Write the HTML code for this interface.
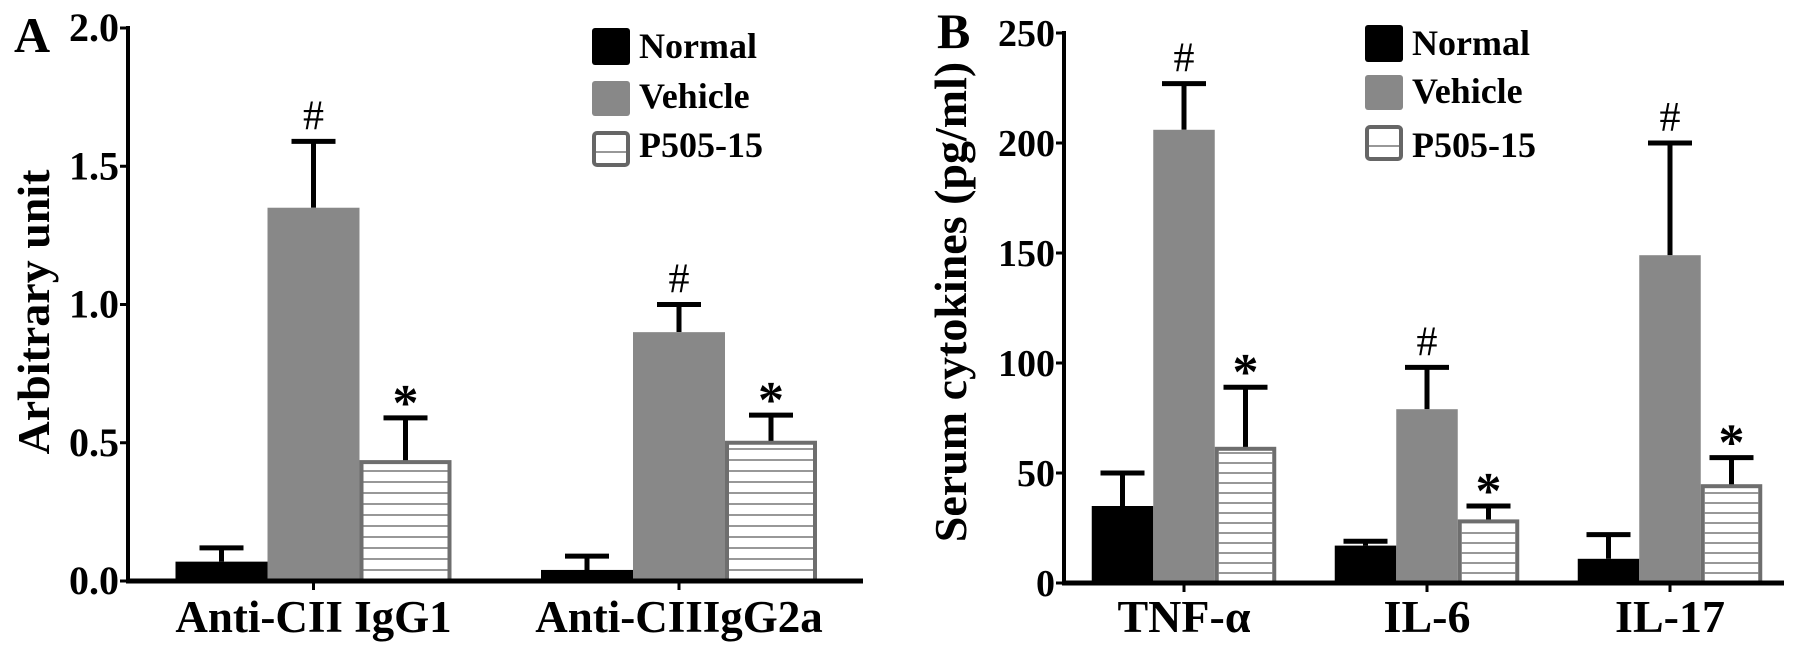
<!DOCTYPE html>
<html><head><meta charset="utf-8"><style>
html,body{margin:0;padding:0;background:#fff;}
svg{display:block;font-family:"Liberation Serif",serif;}
</style></head><body>
<svg id="fig" width="1795" height="651" viewBox="0 0 1795 651"></svg>
<script>
// Panel A data
const aCategories = ["Anti-CII IgG1", "Anti-CIIIgG2a"];
const aNormal = [0.07, 0.04];
const aNormalErr = [0.12, 0.09];
const aVehicle = [1.35, 0.90];
const aVehicleErr = [1.59, 1.00];
const aP505 = [0.43, 0.50];
const aP505Err = [0.59, 0.60];
const aTicks = ["0.0", "0.5", "1.0", "1.5", "2.0"];
const aTickVals = [0, 0.5, 1.0, 1.5, 2.0];
// Panel B data
const bCategories = ["TNF-α", "IL-6", "IL-17"];
const bNormal = [35, 17, 11];
const bNormalErr = [50, 19, 22];
const bVehicle = [206, 79, 149];
const bVehicleErr = [227, 98, 200];
const bP505 = [61, 28, 44];
const bP505Err = [89, 35, 57];
const bTicks = ["0", "50", "100", "150", "200", "250"];
const bTickVals = [0, 50, 100, 150, 200, 250];
const seriesNames = ["Normal", "Vehicle", "P505-15"];

const NS = "http://www.w3.org/2000/svg";
const svg = document.getElementById("fig");
function mk(tag, attrs, parent, text) {
  const e = document.createElementNS(NS, tag);
  for (const k in attrs) e.setAttribute(k, attrs[k]);
  if (text !== undefined) e.textContent = text;
  (parent || svg).appendChild(e);
  return e;
}

function panel(cfg) {
  const g = mk("g", {});
  
  
  const y = v => cfg.y0 - (v / cfg.ymax) * (cfg.y0 - cfg.ytop);
  const cx = i => cfg.firstCenter + i * cfg.groupStep;
  const bw = cfg.barW;
  // bars
  const series = [[cfg.normal, cfg.normalErr, "normal"], [cfg.vehicle, cfg.vehicleErr, "vehicle"], [cfg.p505, cfg.p505Err, "p505"]];
  series.forEach((s, si) => {
    s[0].forEach((v, i) => {
      const x0 = cx(i) + (si - 1.5) * bw;
      const top = y(v);
      // error bar
      const errTop = y(s[1][i]);
      const ebx = x0 + bw / 2;
      const eb = mk("path", {d: `M${ebx},${top} V${errTop} M${ebx - 22},${errTop} H${ebx + 22}`, stroke: "#000", "stroke-width": 5, fill: "none"}, g);
      
      
      let r;
      if (si === 0) {
        r = mk("rect", {x: x0, y: top, width: bw, height: cfg.y0 - top, fill: "#000"}, g);
      } else if (si === 1) {
        r = mk("rect", {x: x0, y: top, width: bw, height: cfg.y0 - top, fill: "#888"}, g);
      } else {
        r = mk("rect", {x: x0 + 2, y: top, width: bw - 4, height: cfg.y0 - top, fill: "#fff", stroke: "#6e6e6e", "stroke-width": 4}, g);
        for (let ly = cfg.y0 - cfg.hatch; ly > top + 4; ly -= cfg.hatch) {
          const l = mk("line", {x1: x0 + 4, x2: x0 + bw - 4, y1: ly, y2: ly, stroke: "#777", "stroke-width": 1.6}, g);
          
          
        }
      }
      
      
      // markers
      if (si === 1) {
        const t = mk("text", {x: ebx, y: errTop - 12, "text-anchor": "middle", "font-size": 42}, g, "#");
        
        
      } else if (si === 2) {
        const t = mk("text", {x: ebx, y: errTop + 2, "text-anchor": "middle", "font-size": 52, "font-weight": "bold"}, g, "*");
        
        
      }
    });
  });
  // axes
  const ya = mk("line", {x1: cfg.x0, x2: cfg.x0, y1: cfg.ytop - 2, y2: cfg.y0 + 2, stroke: "#000", "stroke-width": 4}, g);
  
  
  const xa = mk("line", {x1: cfg.x0 - 2, x2: cfg.xEnd, y1: cfg.y0, y2: cfg.y0, stroke: "#000", "stroke-width": 5}, g);
  
  
  cfg.tickVals.forEach((v, i) => {
    const ty = y(v);
    mk("line", {x1: cfg.x0 - 8, x2: cfg.x0, y1: ty, y2: ty, stroke: "#000", "stroke-width": 3}, g);
    const t = mk("text", {x: cfg.x0 - 9, y: ty + 13, "text-anchor": "end", "font-size": cfg.tickFont, "font-weight": "bold"}, g, cfg.ticks[i]);
    
    
  });
  cfg.categories.forEach((c, i) => {
    mk("line", {x1: cx(i), x2: cx(i), y1: cfg.y0, y2: cfg.y0 + 9, stroke: "#000", "stroke-width": 3}, g);
    const t = mk("text", {x: cx(i), y: 632, "text-anchor": "middle", "font-size": cfg.catFont, "font-weight": "bold"}, g, c);
    
    
  });
  // y title
  const yt = mk("text", {x: 0, y: 0, "text-anchor": "middle", "font-size": 46, "font-weight": "bold", transform: `translate(${cfg.titleX},${cfg.titleY}) rotate(-90)`}, g, cfg.title);
  
  
  // panel letter
  const pl = mk("text", {x: cfg.letterX, y: cfg.letterY, "font-size": 50, "font-weight": "bold"}, g, cfg.letter);
  
  
  // legend
  const lg = mk("g", {}, g);
  
  
  cfg.legendY.forEach((ly, i) => {
    let sq;
    if (i === 0) sq = mk("rect", {x: cfg.legendX, y: ly, width: 38, height: 37, rx: 3, fill: "#000"}, lg);
    else if (i === 1) sq = mk("rect", {x: cfg.legendX, y: ly, width: 38, height: 35, rx: 3, fill: "#888"}, lg);
    else {
      sq = mk("rect", {x: cfg.legendX + 2, y: ly + 2, width: 34, height: 32, rx: 3, fill: "#fff", stroke: "#666", "stroke-width": 4}, lg);
      mk("line", {x1: cfg.legendX + 4, x2: cfg.legendX + 34, y1: ly + 21, y2: ly + 21, stroke: "#777", "stroke-width": 1.5}, lg);
    }
    
    
    const t = mk("text", {x: cfg.legendX + 47, y: cfg.legendBase[i], "font-size": 36, "font-weight": "bold"}, lg, seriesNames[i]);
    
    
  });
}

panel({name: "panel-a", x0: 128, xEnd: 863, y0: 581, ytop: 28, ymax: 2.0,
  firstCenter: 313.5, groupStep: 365.5, barW: 92, hatch: 11,
  normal: aNormal, normalErr: aNormalErr, vehicle: aVehicle, vehicleErr: aVehicleErr, p505: aP505, p505Err: aP505Err,
  ticks: aTicks, tickVals: aTickVals, categories: aCategories, tickFont: 40, catFont: 45,
  title: "Arbitrary unit", titleX: 49, titleY: 312, letter: "A", letterX: 14, letterY: 52,
  legendX: 592, legendY: [28, 81, 131], legendBase: [58, 108, 157]});

panel({name: "panel-b", x0: 1064, xEnd: 1784, y0: 583, ytop: 33, ymax: 250,
  firstCenter: 1184, groupStep: 243, barW: 61.5, hatch: 10,
  normal: bNormal, normalErr: bNormalErr, vehicle: bVehicle, vehicleErr: bVehicleErr, p505: bP505, p505Err: bP505Err,
  ticks: bTicks, tickVals: bTickVals, categories: bCategories, tickFont: 38, catFont: 46,
  title: "Serum cytokines (pg/ml)", titleX: 966, titleY: 302, letter: "B", letterX: 937, letterY: 48,
  legendX: 1365, legendY: [25, 75, 125], legendBase: [55, 103, 157]});
</script>
</body></html>
